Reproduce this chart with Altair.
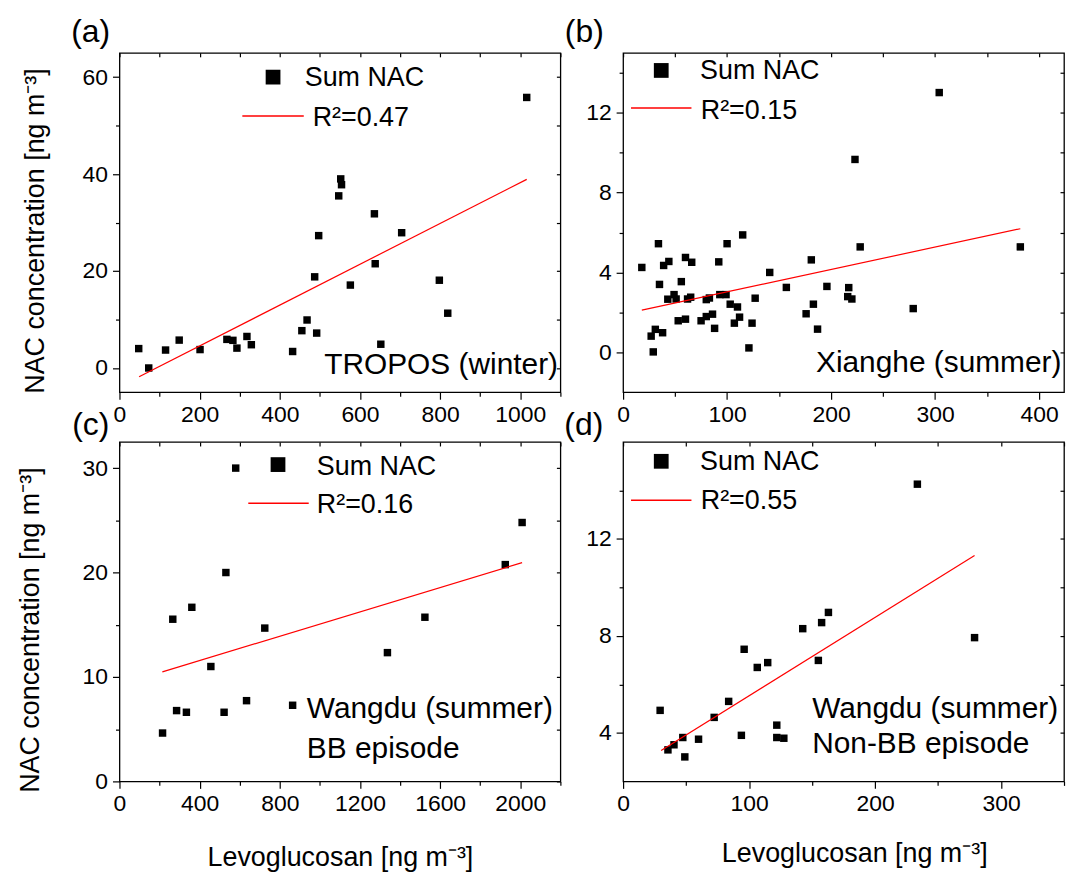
import altair as alt
import pandas as pd

FONT = "Liberation Sans"

# ---------------- data ----------------
# (a) TROPOS (winter)
a_x = [48, 73, 115, 149, 201, 268, 283, 293, 318, 329, 432, 455, 468, 492, 487, 497,
       547, 552, 554, 576, 636, 638, 652, 704, 798, 819, 1016]
a_y = [4.0, 0.0, 3.7, 5.75, 3.8, 5.9, 5.7, 4.1, 6.5, 4.8, 3.4, 7.7, 9.9, 7.2, 18.8, 27.3,
       35.5, 39.0, 37.8, 17.1, 31.8, 21.5, 4.9, 27.9, 18.1, 11.3, 55.8]
a_fit_x = [49, 1016]
a_fit_y = [-1.8, 38.9]

# (b) Xianghe (summer)
b_x = [18, 27, 29, 31, 34, 35, 38, 39, 44, 43, 49, 51, 56, 53, 60, 60, 62, 65, 66, 75,
       80, 80, 83, 86, 88, 92, 93, 99, 100, 103, 107, 110, 112, 115, 121, 124, 127, 141,
       157, 176, 181, 183, 187, 196, 217, 216, 220, 223, 228, 279, 304, 382]
b_y = [4.25, 0.81, 0.02, 1.15, 5.44, 3.4, 0.98, 4.35, 4.55, 2.66, 2.89, 2.67, 3.54, 1.58,
       1.66, 4.75, 2.67, 2.76, 4.51, 1.58, 1.79, 2.64, 2.72, 1.91, 1.2, 4.53, 2.89, 2.89,
       5.44, 2.41, 1.46, 2.27, 1.76, 5.88, 0.22, 1.46, 2.71, 4.0, 3.25, 1.93, 4.63, 2.41,
       1.16, 3.3, 3.24, 2.79, 2.67, 9.66, 5.28, 2.19, 13.01, 5.28]
b_fit_x = [18, 382]
b_fit_y = [2.11, 6.19]

# (c) Wangdu (summer) BB episode
c_x = [215, 266, 285, 334, 361, 456, 522, 531, 580, 634, 725, 864, 1337, 1524, 1925, 2009]
c_y = [4.63, 15.53, 6.78, 6.62, 16.67, 11.0, 6.62, 20.0, 30.0, 7.73, 14.68, 7.29, 12.33,
       15.72, 20.76, 24.79]
c_fit_x = [214, 2009]
c_fit_y = [10.49, 20.95]

# (d) Wangdu (summer) Non-BB episode
d_x = [29.4, 35.6, 40.4, 47.4, 49.0, 59.9, 72.3, 83.8, 93.9, 96.1, 106.5, 114.8, 122,
       122, 127.6, 142.6, 155, 157.6, 163, 233.6, 279]
d_y = [4.93, 3.30, 3.51, 3.81, 3.01, 3.74, 4.64, 5.30, 3.90, 7.45, 6.70, 6.90, 4.32,
       3.81, 3.78, 8.30, 6.99, 8.55, 8.97, 14.26, 7.93]
d_fit_x = [30.2, 279]
d_fit_y = [3.27, 11.32]

Y_TITLE = "NAC concentration [ng m\u207b\u00b3]"
X_TITLE = "Levoglucosan [ng m\u207b\u00b3]"

W, H = 443, 341
K = W / 445.0  # horizontal factor for in-panel decoration positions


def tick_cond(step):
    return {"condition": {"test": f"datum.value % {step} === 0", "value": 7}, "value": 4}


def lab_expr(step):
    return f"datum.value % {step} === 0 ? datum.label : ''"


def txt(s, x, y, size, align="left"):
    return alt.Chart(pd.DataFrame({"t": [s]})).mark_text(
        align=align, baseline="alphabetic", font=FONT, fontSize=size, color="black"
    ).encode(x=alt.value(x), y=alt.value(y), text="t:N")


def panel(p):
    pts = pd.DataFrame({"x": p["x"], "y": p["y"]})
    fit = pd.DataFrame({"x": p["fx"], "y": p["fy"]})
    xsc = alt.Scale(domain=p["xdom"], nice=False, zero=False)
    ysc = alt.Scale(domain=p["ydom"], nice=False, zero=False)

    common = dict(labelFont=FONT, labelFontSize=23, labelColor="black", tickColor="black",
                  tickWidth=1.2, titleFont=FONT, titleFontSize=27, titleColor="black",
                  titleFontWeight="normal", format="d", labelFlush=False,
                  labelOverlap=False, domain=False, grid=False)
    bkw = dict(orient="bottom", values=p["xv"], labelExpr=lab_expr(p["xstep"]),
               tickSize=tick_cond(p["xstep"]), labelPadding=4, **common)
    if p.get("xtitle"):
        bkw.update(title=X_TITLE, titleX=p["xtx"] * K, titleY=p["xty"],
                   titleBaseline="alphabetic", titleAlign="center", titleAnchor="start")
    else:
        bkw.update(title=None)
    lkw = dict(orient="left", values=p["yv"], labelExpr=lab_expr(p["ystep"]),
               tickSize=tick_cond(p["ystep"]), labelPadding=5, **common)
    if p.get("ytitle"):
        lkw.update(title=Y_TITLE, titleX=p["ytx"], titleY=p["yty"], titleAngle=270,
                   titleBaseline="alphabetic", titleAlign="center", titleAnchor="start")
    else:
        lkw.update(title=None)

    mirror_kw = dict(labels=False, title=None, tickColor="black", tickWidth=1.2,
                     tickSize=4, offset=-4, domain=False, grid=False)
    base = alt.Chart(pts).mark_square(size=56, color="black", opacity=1).encode(
        x=alt.X("x:Q", scale=xsc, axis=alt.Axis(**bkw)),
        y=alt.Y("y:Q", scale=ysc, axis=alt.Axis(**lkw)),
    )
    mirror = alt.Chart(pts).mark_square(size=1, opacity=0).encode(
        x=alt.X("x:Q", scale=xsc, axis=alt.Axis(orient="top", values=p["xv"], **mirror_kw)),
        y=alt.Y("y:Q", scale=ysc, axis=alt.Axis(orient="right", values=p["yv"], **mirror_kw)),
    )
    line = alt.Chart(fit).mark_line(color="#ff0000", strokeWidth=1.2).encode(
        x=alt.X("x:Q", scale=xsc, axis=None),
        y=alt.Y("y:Q", scale=ysc, axis=None),
    )
    sq = alt.Chart(pd.DataFrame({"k": ["Sum NAC"]})).mark_square(
        size=220, color="black", opacity=1
    ).encode(x=alt.value(p["sq"][0] * K), y=alt.value(p["sq"][1]))
    lg_line = alt.Chart(pd.DataFrame({"k": ["fit"]})).mark_rule(
        color="#ff0000", stroke="#ff0000", strokeWidth=1.5
    ).encode(x=alt.value(p["ln"][0] * K), x2=alt.value(p["ln"][1] * K), y=alt.value(p["ln"][2]))

    layers = [base, mirror, line, sq, lg_line,
              txt("Sum NAC", p["st"][0] * K, p["st"][1], 27),
              txt(p["r2"], p["rt"][0] * K, p["rt"][1], 27),
              txt(p["lab"], p["labpos"][0], p["labpos"][1], 32)]
    for s, x, y, al in p["site"]:
        layers.append(txt(s, x * K + (2 if al == "right" else 0), y, 30, al))
    return alt.layer(*layers).resolve_axis(x="independent", y="independent").properties(
        width=W, height=H)


A = panel(dict(x=a_x, y=a_y, fx=a_fit_x, fy=a_fit_y, xdom=[0, 1100], ydom=[-5, 65],
               xv=list(range(0, 1101, 100)), xstep=200, yv=list(range(0, 61, 10)), ystep=20,
               ytitle=True, ytx=-76, yty=178.5,
               sq=(155, 24.4), st=(187, 33.7), ln=(124, 186, 63.5), rt=(195, 73.7),
               r2="R\u00b2=0.47", lab="(a)", labpos=(-48.5, -10.5),
               site=[("TROPOS (winter)", 440.6, 322.7, "right")]))
B = panel(dict(x=b_x, y=b_y, fx=b_fit_x, fy=b_fit_y, xdom=[0, 424], ydom=[-2, 15],
               xv=list(range(0, 401, 50)), xstep=100, yv=list(range(0, 15, 2)), ystep=4,
               sq=(38.5, 17.7), st=(77.7, 26.7), ln=(8, 69, 55.5), rt=(78.4, 66),
               r2="R\u00b2=0.15", lab="(b)", labpos=(-58.5, -11),
               site=[("Xianghe (summer)", 440.4, 321, "right")]))
C = panel(dict(x=c_x, y=c_y, fx=c_fit_x, fy=c_fit_y, xdom=[0, 2200], ydom=[0, 32.5],
               xv=list(range(0, 2201, 200)), xstep=400, yv=list(range(0, 31, 5)), ystep=10,
               ytitle=True, ytx=-81, yty=188.5, xtitle=True, xtx=222.5, xty=85,
               sq=(160, 22.7), st=(199.2, 32.7), ln=(130, 191, 61.5), rt=(199.2, 71),
               r2="R\u00b2=0.16", lab="(c)", labpos=(-47.5, -7.5),
               site=[("Wangdu (summer)", 189.1, 277.7, "left"),
                     ("BB episode", 189.1, 317, "left")]))
D = panel(dict(x=d_x, y=d_y, fx=d_fit_x, fy=d_fit_y, xdom=[0, 350], ydom=[2, 16],
               xv=list(range(0, 351, 50)), xstep=100, yv=list(range(4, 15, 2)), ystep=4,
               xtitle=True, xtx=233.3, xty=80,
               sq=(38.5, 19.4), st=(77.7, 28.4), ln=(8, 69, 58.5), rt=(78.4, 67.7),
               r2="R\u00b2=0.55", lab="(d)", labpos=(-59, -7.3),
               site=[("Wangdu (summer)", 190.8, 277.7, "left"),
                     ("Non-BB episode", 190.8, 312.7, "left")]))

chart = alt.concat(A, B, C, D, columns=2, spacing={"row": 50, "column": 63},
                   bounds="flush").properties(
    padding={"left": 8, "top": 5, "right": 0, "bottom": 0},
    background="white",
).configure_view(stroke="black", strokeWidth=1.3)

chart.save("out.html", embed_options={"renderer": "svg", "actions": False})
